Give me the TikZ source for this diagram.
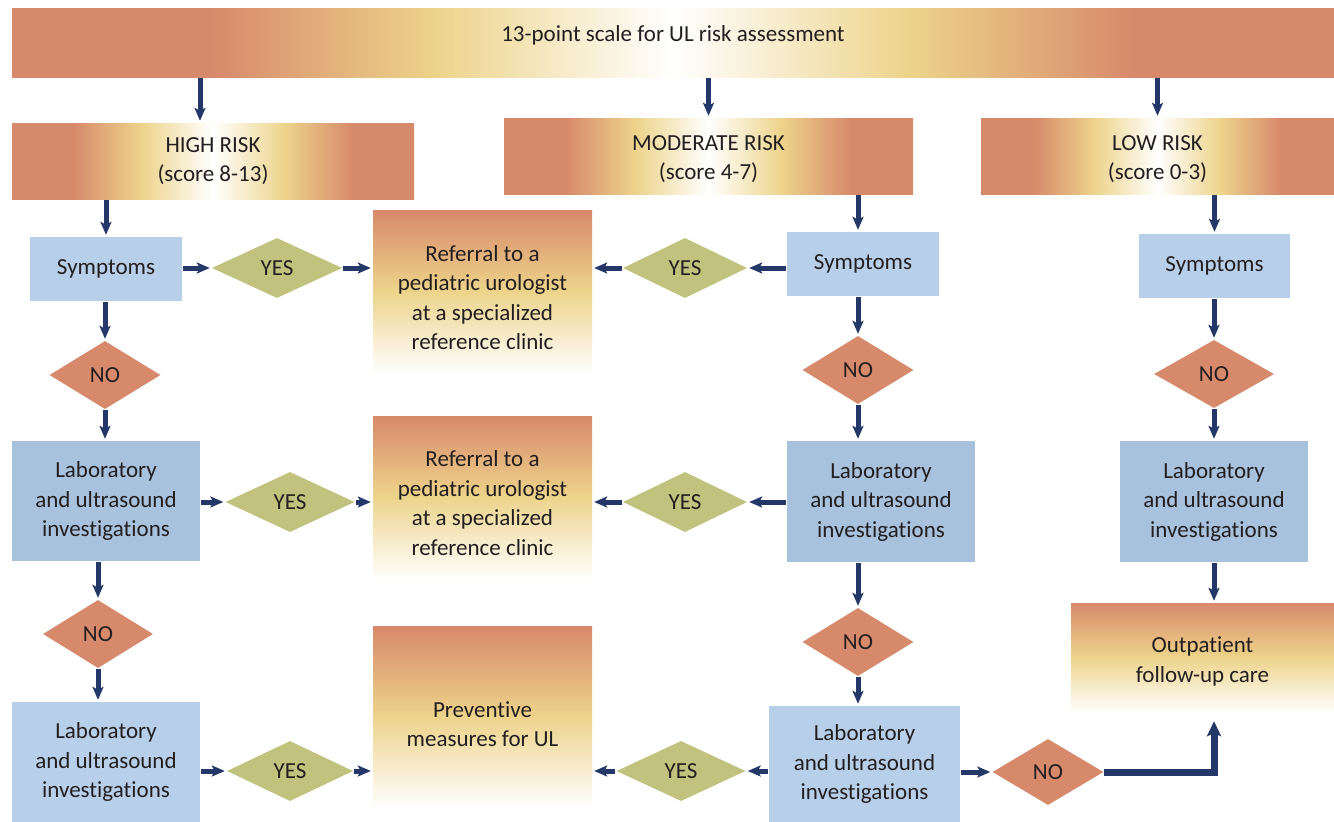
\documentclass[tikz,border=0pt]{standalone}
\usepackage{fontspec}
\setmainfont{Carlito}[Ligatures={NoCommon}]
\usetikzlibrary{shapes.geometric,arrows.meta,calc}
\definecolor{salm}{HTML}{D7896B}
\definecolor{yell}{HTML}{EDD38A}
\definecolor{blueA}{HTML}{B8CFEA}
\definecolor{blueB}{HTML}{A8C2DE}
\definecolor{olive}{HTML}{C0C27E}
\definecolor{navy}{HTML}{233868}
\definecolor{txt}{HTML}{231F20}
\pgfdeclarehorizontalshading{riskshade}{100bp}{color(0bp)=(salm); color(25bp)=(salm); color(32.5bp)=(salm); color(41bp)=(yell); color(50bp)=(white); color(59bp)=(yell); color(67.5bp)=(salm); color(75bp)=(salm); color(100bp)=(salm)}
\pgfdeclareverticalshading{refshade}{100bp}{color(0bp)=(white); color(25bp)=(white); color(28bp)=(white); color(52bp)=(yell); color(75bp)=(salm); color(100bp)=(salm)}
\tikzset{
  sz/.style 2 args={minimum width=#1pt, minimum height=#2pt},
  txtfont/.style={font=\fontsize{23}{29.5}\selectfont, text=txt},
  box/.style={rectangle, inner sep=0pt, align=center, txtfont},
  risk/.style={box, shading=riskshade},
  refbox/.style={box, shading=refshade},
  sym/.style={box, fill=blueA},
  lab/.style={box, fill=blueB},
  labl/.style={box, fill=blueA},
  yesd/.style={diamond, fill=olive, inner sep=0pt, txtfont},
  nod/.style={diamond, fill=salm, inner sep=0pt, txtfont},
  arr/.style={draw=navy, line width=5pt, -{Stealth[length=13pt,width=11pt,inset=3pt]}, shorten >=2pt, shorten <=1pt},
  bigarr/.style={draw=navy, line width=7pt, -{Stealth[length=15pt,width=14pt,inset=3pt]}, shorten >=1pt}
}
\begin{document}
\begin{tikzpicture}[x=1pt,y=-1pt]
\fill[white] (0,0) rectangle (1334,822);
\useasboundingbox (0,0) rectangle (1334,822);

% top bar
\node[risk, sz={1322}{69}, label={[txtfont, yshift=7.5pt]center:13-point scale for UL risk assessment}] (top) at (673,42.5) {};

% risk boxes
\node[risk, sz={402}{76}] (hr) at (213,161) {HIGH RISK\\(score 8-13)};
\node[risk, sz={409}{76}, label={[txtfont, align=center, yshift=-3pt]center:MODERATE RISK\\(score 4-7)}] (mr) at (708.5,156) {};
\node[risk, sz={353}{76}, label={[txtfont, align=center, yshift=-3pt]center:LOW RISK\\(score 0-3)}] (lr) at (1157.5,156) {};

% symptoms
\node[sym, sz={152}{64}] (sL) at (106,269) {Symptoms};
\node[sym, sz={152}{64}] (sM) at (863,264) {Symptoms};
\node[sym, sz={151}{64}] (sR) at (1214.5,266) {Symptoms};

% first row diamonds
\node[yesd, sz={130}{60}] (yL1) at (277,268) {YES};
\node[yesd, sz={124}{60}] (yM1) at (685,268) {YES};

% referral boxes
\node[refbox, sz={219}{175}] (ref1) at (482.5,297.5) {Referral to a\\pediatric urologist\\at a specialized\\reference clinic};
\node[refbox, sz={219}{174}] (ref2) at (482.5,503) {Referral to a\\pediatric urologist\\at a specialized\\reference clinic};
\node[refbox, sz={219}{196}] (prev) at (482.5,724) {Preventive\\measures for UL};

% NO diamonds row 1
\node[nod, sz={111}{68}] (nL1) at (105,375) {NO};
\node[nod, sz={111}{68}] (nM1) at (858,370) {NO};
\node[nod, sz={120}{68}] (nR1) at (1214,374) {NO};

% lab boxes row 1
\node[lab, sz={188}{120}] (labL1) at (106,501) {Laboratory\\and ultrasound\\investigations};
\node[lab, sz={188}{121}] (labM1) at (881,501.5) {Laboratory\\and ultrasound\\investigations};
\node[lab, sz={188}{121}] (labR1) at (1214,501.5) {Laboratory\\and ultrasound\\investigations};

% second row diamonds
\node[yesd, sz={129}{60}] (yL2) at (290,502) {YES};
\node[yesd, sz={124}{60}] (yM2) at (685,502) {YES};

% NO diamonds row 2
\node[nod, sz={110}{68}] (nL2) at (98,634) {NO};
\node[nod, sz={111}{68}] (nM2) at (858,642) {NO};

% outpatient
\node[refbox, sz={263}{117}] (out) at (1202.5,661.5) {Outpatient\\follow-up care};

% lab boxes row 3
\node[labl, sz={188}{120}] (labL3) at (106,762) {Laboratory\\and ultrasound\\investigations};
\node[labl, sz={191}{116}] (labM3) at (864.5,764) {Laboratory\\and ultrasound\\investigations};

% third row diamonds
\node[yesd, sz={126}{60}] (yL3) at (290,771) {YES};
\node[yesd, sz={129}{60}] (yM3) at (681,771) {YES};
\node[nod, sz={111}{66}] (nR3) at (1048,772) {NO};

% vertical arrows
\draw[arr] ([xshift=-13pt]hr.north |- top.south) -- ([xshift=-13pt]hr.north);
\draw[arr] (mr.north |- top.south) -- (mr.north);
\draw[arr] (lr.north |- top.south) -- (lr.north);
\draw[arr] (hr.south -| sL) -- (sL.north);
\draw[arr] (mr.south -| nM1) -- (nM1 |- sM.north);
\draw[arr] (lr.south -| sR) -- (sR.north);
\draw[arr] (sL.south -| nL1) -- (nL1.north);
\draw[arr] (sM.south -| nM1) -- (nM1.north);
\draw[arr] (sR.south -| nR1) -- (nR1.north);
\draw[arr] (nL1.south) -- (nL1 |- labL1.north);
\draw[arr] (nM1.south) -- (nM1 |- labM1.north);
\draw[arr] (nR1.south) -- (nR1 |- labR1.north);
\draw[arr] (labL1.south -| nL2) -- (nL2.north);
\draw[arr] (labM1.south -| nM2) -- (nM2.north);
\draw[arr] (labR1.south) -- (labR1 |- out.north);
\draw[arr] (nL2.south) -- (nL2 |- labL3.north);
\draw[arr] (nM2.south) -- (nM2 |- labM3.north);

% horizontal arrows
\draw[arr] (sL.east |- yL1) -- (yL1.west);
\draw[arr] (yL1.east) -- (yL1 -| ref1.west);
\draw[arr] (sM.west |- yM1) -- (yM1.east);
\draw[arr] (yM1.west) -- (yM1 -| ref1.east);
\draw[arr] (labL1.east |- yL2) -- (yL2.west);
\draw[arr] (yL2.east) -- (yL2 -| ref2.west);
\draw[arr] (labM1.west |- yM2) -- (yM2.east);
\draw[arr] (yM2.west) -- (yM2 -| ref2.east);
\draw[arr] (labL3.east |- yL3) -- (yL3.west);
\draw[arr] (yL3.east) -- (yL3 -| prev.west);
\draw[arr] (labM3.west |- yM3) -- (yM3.east);
\draw[arr] (yM3.west) -- (yM3 -| prev.east);
\draw[arr] (labM3.east |- nR3) -- (nR3.west);
\draw[bigarr] (nR3.east) -| (out.south -| labR1);
\end{tikzpicture}
\end{document}
